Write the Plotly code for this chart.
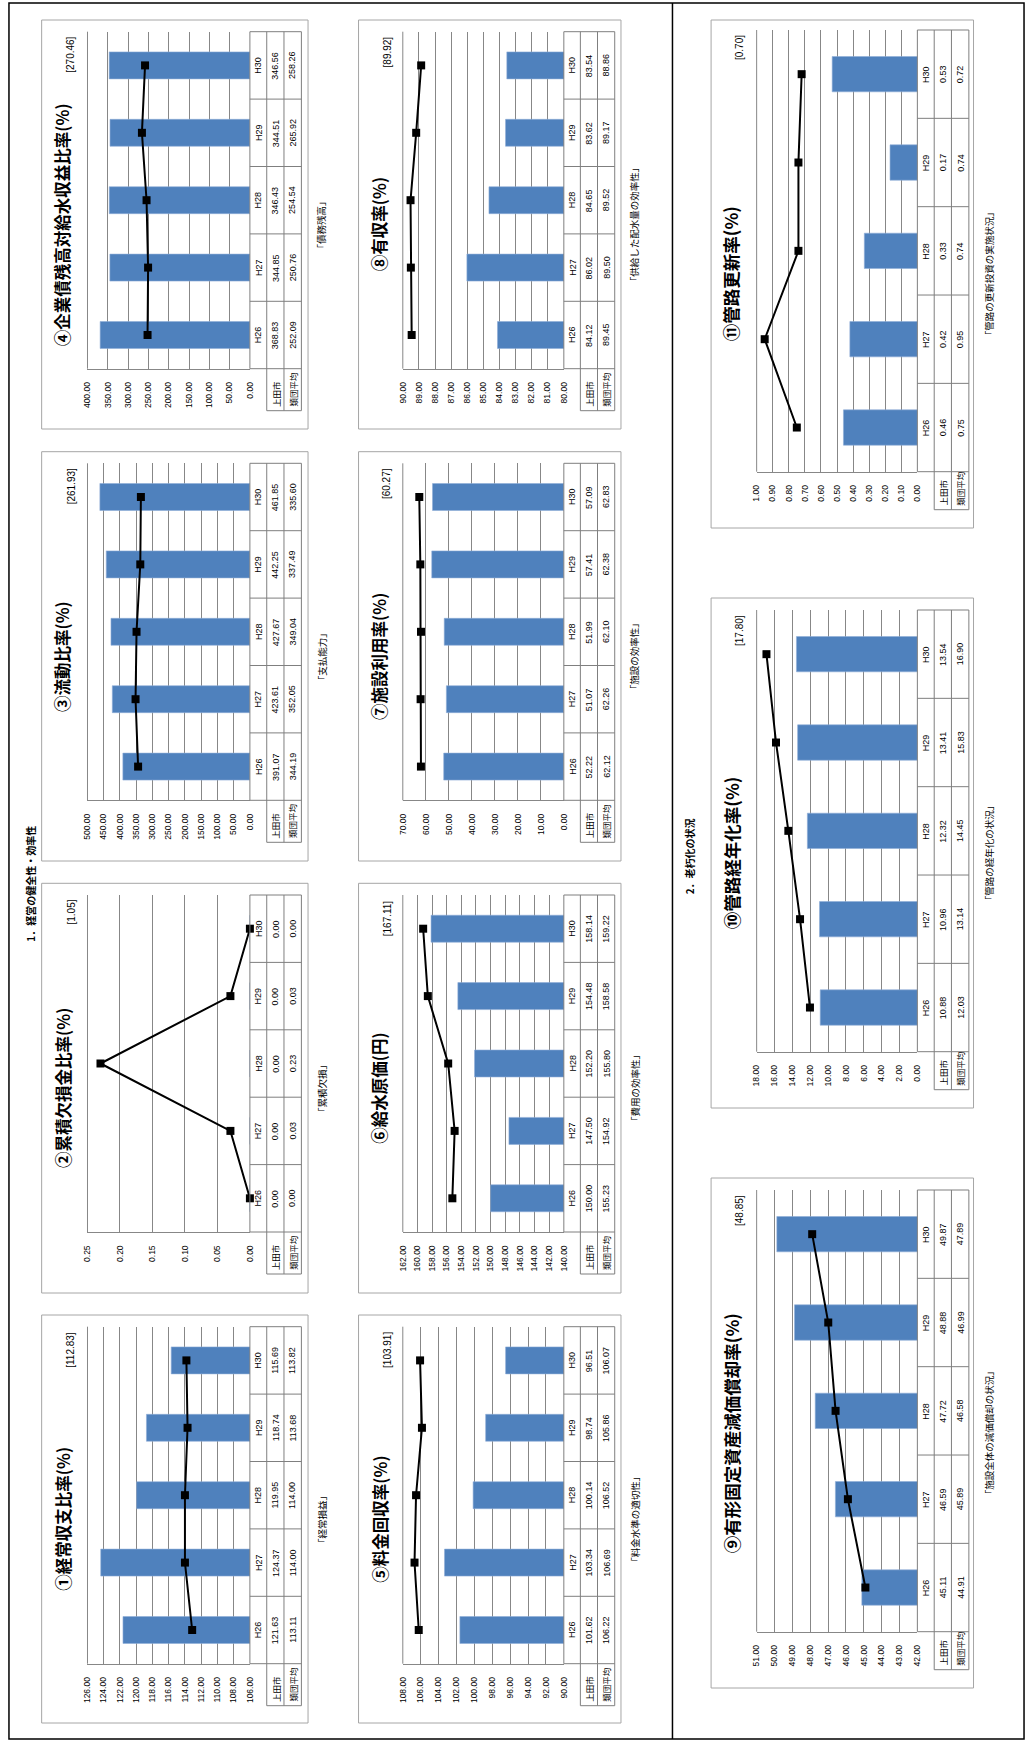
import plotly.graph_objects as go

W, H = 1032, 1742

years = ["H26", "H27", "H28", "H29", "H30"]
row_city = "上田市"
row_avg = "類団平均"

# ---- data (上田市 = bars, 類団平均 = line, national average in brackets) ----
c1_city = [121.63, 124.37, 119.95, 118.74, 115.69]
c1_avg = [113.11, 114.00, 114.00, 113.68, 113.82]
c2_city = [0.00, 0.00, 0.00, 0.00, 0.00]
c2_avg = [0.00, 0.03, 0.23, 0.03, 0.00]
c3_city = [391.07, 423.61, 427.67, 442.25, 461.85]
c3_avg = [344.19, 352.05, 349.04, 337.49, 335.60]
c4_city = [368.83, 344.85, 346.43, 344.51, 346.56]
c4_avg = [252.09, 250.76, 254.54, 265.92, 258.26]
c5_city = [101.62, 103.34, 100.14, 98.74, 96.51]
c5_avg = [106.22, 106.69, 106.52, 105.86, 106.07]
c6_city = [150.00, 147.50, 152.20, 154.48, 158.14]
c6_avg = [155.23, 154.92, 155.80, 158.58, 159.22]
c7_city = [52.22, 51.07, 51.99, 57.41, 57.09]
c7_avg = [62.12, 62.26, 62.10, 62.38, 62.83]
c8_city = [84.12, 86.02, 84.65, 83.62, 83.54]
c8_avg = [89.45, 89.50, 89.52, 89.17, 88.86]
c9_city = [45.11, 46.59, 47.72, 48.88, 49.87]
c9_avg = [44.91, 45.89, 46.58, 46.99, 47.89]
c10_city = [10.88, 10.96, 12.32, 13.41, 13.54]
c10_avg = [12.03, 13.14, 14.45, 15.83, 16.90]
c11_city = [0.46, 0.42, 0.33, 0.17, 0.53]
c11_avg = [0.75, 0.95, 0.74, 0.74, 0.72]

national = ["112.83", "1.05", "261.93", "270.46", "103.91", "167.11",
            "60.27", "89.92", "48.85", "17.80", "0.70"]

titles = ["①経常収支比率(%)", "②累積欠損金比率(%)", "③流動比率(%)",
          "④企業債残高対給水収益比率(%)", "⑤料金回収率(%)", "⑥給水原価(円)",
          "⑦施設利用率(%)", "⑧有収率(%)", "⑨有形固定資産減価償却率(%)",
          "⑩管路経年化率(%)", "⑪管路更新率(%)"]

captions = ["「経常損益」", "「累積欠損」", "「支払能力」", "「債務残高」",
            "「料金水準の適切性」", "「費用の効率性」", "「施設の効率性」",
            "「供給した配水量の効率性」", "「施設全体の減価償却の状況」",
            "「管路の経年化の状況」", "「管路の更新投資の実施状況」"]

# axis (min, max, step)
axis_min = [106, 0, 0, 0, 90, 140, 0, 80, 42, 0, 0]
axis_max = [126, 0.25, 500, 400, 108, 162, 70, 90, 51, 18, 1.0]
axis_step = [2, 0.05, 50, 50, 2, 2, 10, 1, 1, 2, 0.1]

section1 = "1．経営の健全性・効率性"
section2 = "2．老朽化の状況"

city_series = [c1_city, c2_city, c3_city, c4_city, c5_city, c6_city,
               c7_city, c8_city, c9_city, c10_city, c11_city]
avg_series = [c1_avg, c2_avg, c3_avg, c4_avg, c5_avg, c6_avg,
              c7_avg, c8_avg, c9_avg, c10_avg, c11_avg]

# ---- layout geometry (pixels) ----
cols = {
    "c1": dict(box=(37, 306), plot=(83.3, 247.3), strips=(247.3, 264.3, 281.7, 299.3),
               tx=58.3, bx=66.7, cx=320, hdr=42),
    "c2": dict(box=(357, 622), plot=(401.7, 564.3), strips=(564.3, 581.0, 598.3, 615.7),
               tx=378.3, bx=386.0, cx=636, hdr=42),
    "r": dict(box=(713, 978), plot=(759.0, 921.3), strips=(921.3, 938.3, 955.7, 973.3),
              tx=733.3, bx=741.7, cx=994, hdr=38),
}
rows_lr = [dict(box=(20, 429), ptop=31.7, ph=337.0),
           dict(box=(451.7, 861), ptop=463.3, ph=337.0),
           dict(box=(883.3, 1293), ptop=895.0, ph=337.0),
           dict(box=(1315, 1723), ptop=1326.7, ph=337.0)]
rows_r = [dict(box=(20, 528), ptop=30.0, ph=441.7),
          dict(box=(598, 1108), ptop=610.0, ph=441.7),
          dict(box=(1178, 1688), ptop=1190.0, ph=441.7)]

placement = [("c1", rows_lr[3]), ("c1", rows_lr[2]), ("c1", rows_lr[1]), ("c1", rows_lr[0]),
             ("c2", rows_lr[3]), ("c2", rows_lr[2]), ("c2", rows_lr[1]), ("c2", rows_lr[0]),
             ("r", rows_r[2]), ("r", rows_r[1]), ("r", rows_r[0])]


def X(px):
    return px / W


def Y(py):
    return 1 - py / H


FONT = "Liberation Sans, Noto Sans CJK JP, sans-serif"
JFONT = "Noto Sans CJK JP, sans-serif"
GRID = "#878787"
TBL = "#7f7f7f"

fig = go.Figure()
shapes = []
annotations = []
layout_axes = {}

for i in range(11):
    colkey, row = placement[i]
    col = cols[colkey]
    n = i + 1
    xa = "x" if n == 1 else f"x{n}"
    ya = "y" if n == 1 else f"y{n}"
    xname = "xaxis" if n == 1 else f"xaxis{n}"
    yname = "yaxis" if n == 1 else f"yaxis{n}"

    px0, px1 = col["plot"]
    ptop = row["ptop"]
    pbot = ptop + row["ph"]
    lo, hi, st = axis_min[i], axis_max[i], axis_step[i]
    nt = int(round((hi - lo) / st))
    tv = [round(lo + k * st, 4) for k in range(nt + 1)]

    layout_axes[xname] = dict(
        domain=[X(px0), X(px1)], anchor=ya, range=[hi, lo],
        tickvals=tv, ticktext=[f"{v:.2f}" for v in tv], tickangle=-90,
        showgrid=True, gridcolor=GRID, gridwidth=1, zeroline=False,
        showline=True, linecolor=GRID, linewidth=1, ticks="",
        tickfont=dict(size=8.5, family=FONT, color="#000"),
        ticklabelstandoff=9, fixedrange=True)
    layout_axes[yname] = dict(
        domain=[Y(pbot), Y(ptop)], anchor=xa, range=[-0.5, 4.5],
        showticklabels=False, showgrid=False, zeroline=False, showline=False,
        fixedrange=True)

    fig.add_trace(go.Bar(
        x=city_series[i], y=list(range(5)), orientation="h", width=0.4,
        marker=dict(color="#4F81BD", line=dict(width=0.6, color="#8EADD6")),
        xaxis=xa, yaxis=ya, showlegend=False, name=row_city))
    fig.add_trace(go.Scatter(
        x=avg_series[i], y=list(range(5)), mode="lines+markers",
        line=dict(color="#000", width=2),
        marker=dict(symbol="square", size=8, color="#000"),
        xaxis=xa, yaxis=ya, showlegend=False, name=row_avg, cliponaxis=False))

    # chart box
    bx0, bx1 = col["box"]
    by0, by1 = row["box"]
    shapes.append(dict(type="rect", xref="paper", yref="paper",
                       x0=X(bx0), x1=X(bx1), y0=Y(by1), y1=Y(by0),
                       line=dict(color="#a6a6a6", width=1), layer="below"))
    # top gridline at max edge
    shapes.append(dict(type="line", xref="paper", yref="paper",
                       x0=X(px0), x1=X(px0), y0=Y(pbot), y1=Y(ptop),
                       line=dict(color=GRID, width=1)))

    # data table
    s0, s1, s2, s3 = col["strips"]
    hb = pbot + col["hdr"]
    slot = row["ph"] / 5
    L = dict(color=TBL, width=1)
    shapes.append(dict(type="line", xref="paper", yref="paper",
                       x0=X(s0), x1=X(s0), y0=Y(pbot), y1=Y(ptop), line=L))
    for sx in (s1, s2, s3):
        shapes.append(dict(type="line", xref="paper", yref="paper",
                           x0=X(sx), x1=X(sx), y0=Y(hb), y1=Y(ptop), line=L))
    for k in range(6):
        yy = ptop + k * slot
        shapes.append(dict(type="line", xref="paper", yref="paper",
                           x0=X(s0), x1=X(s3), y0=Y(yy), y1=Y(yy), line=L))
    shapes.append(dict(type="line", xref="paper", yref="paper",
                       x0=X(s1), x1=X(s3), y0=Y(hb), y1=Y(hb), line=L))

    for k in range(5):
        yc = ptop + (4 - k + 0.5) * slot
        for (xa0, xa1, txt) in ((s0, s1, years[k]),
                                (s1, s2, f"{city_series[i][k]:.2f}"),
                                (s2, s3, f"{avg_series[i][k]:.2f}")):
            annotations.append(dict(
                xref="paper", yref="paper", x=X((xa0 + xa1) / 2), y=Y(yc),
                text=txt, showarrow=False, textangle=-90,
                xanchor="center", yanchor="middle",
                font=dict(size=9, family=FONT, color="#000")))
    for (xa0, xa1, txt) in ((s1, s2, row_city), (s2, s3, row_avg)):
        annotations.append(dict(
            xref="paper", yref="paper", x=X((xa0 + xa1) / 2), y=Y(hb - 2),
            text=txt, showarrow=False, textangle=-90,
            xanchor="center", yanchor="bottom",
            font=dict(size=8.5, family=JFONT, color="#000")))

    # title
    bc = (by0 + by1) / 2
    annotations.append(dict(
        xref="paper", yref="paper", x=X(col["tx"]), y=Y(bc),
        text=f"<b>{titles[i]}</b>", showarrow=False, textangle=-90,
        xanchor="center", yanchor="middle",
        font=dict(size=17.5 if colkey == "r" else 16.5, family=JFONT, color="#000")))
    # national average
    annotations.append(dict(
        xref="paper", yref="paper", x=X(col["bx"]), y=Y(ptop + 3),
        text=f"[{national[i]}]", showarrow=False, textangle=-90,
        xanchor="center", yanchor="top",
        font=dict(size=10, family=FONT, color="#000")))
    # caption
    annotations.append(dict(
        xref="paper", yref="paper", x=X(col["cx"]), y=Y(bc),
        text=captions[i], showarrow=False, textangle=-90,
        xanchor="center", yanchor="middle",
        font=dict(size=9.5, family=JFONT, color="#000")))

# section headers
annotations.append(dict(xref="paper", yref="paper", x=X(25), y=Y(884),
                        text=f"<b>{section1}</b>", showarrow=False, textangle=-90,
                        xanchor="center", yanchor="middle",
                        font=dict(size=10, family=JFONT, color="#000")))
annotations.append(dict(xref="paper", yref="paper", x=X(691), y=Y(856),
                        text=f"<b>{section2}</b>", showarrow=False, textangle=-90,
                        xanchor="center", yanchor="middle",
                        font=dict(size=10, family=JFONT, color="#000")))

# page frame and section divider
shapes.append(dict(type="rect", xref="paper", yref="paper",
                   x0=X(4), x1=X(1029), y0=Y(1739), y1=Y(3),
                   line=dict(color="#000", width=1.5)))
shapes.append(dict(type="line", xref="paper", yref="paper",
                   x0=X(674), x1=X(674), y0=Y(1739), y1=Y(3),
                   line=dict(color="#000", width=1.5)))

fig.update_layout(
    width=W, height=H, margin=dict(l=0, r=0, t=0, b=0),
    paper_bgcolor="white", plot_bgcolor="white",
    shapes=shapes, annotations=annotations, bargap=0.6,
    font=dict(family=FONT, size=9, color="#000"),
    **layout_axes)

fig.write_html("out.html")
